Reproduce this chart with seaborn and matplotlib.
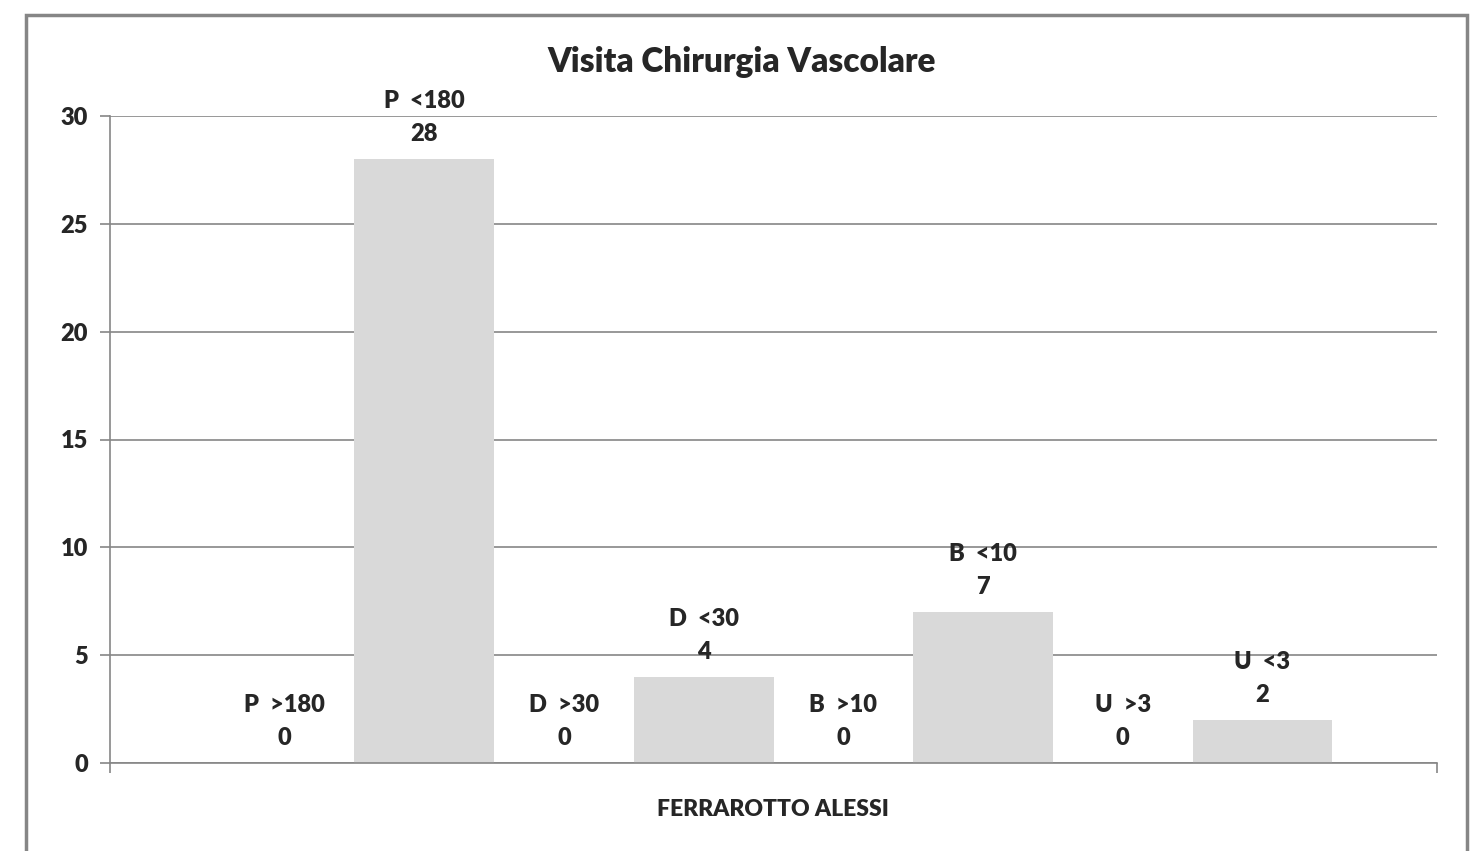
import pandas as pd
import matplotlib.pyplot as plt
import seaborn as sns
from matplotlib.patches import Rectangle

# chart data
doctor = "FERRAROTTO ALESSI"
series = ["P  >180", "P  <180", "D  >30", "D  <30", "B  >10", "B  <10", "U  >3", "U  <3"]
counts = [0, 28, 0, 4, 0, 7, 0, 2]
yticks = [0, 5, 10, 15, 20, 25, 30]

df = pd.DataFrame({"medico": [doctor] * len(series), "classe": series, "n": counts})

sns.set_style("white")
plt.rcParams['font.family'] = ['Lato', 'DejaVu Sans']

fig = plt.figure(figsize=(14.83, 8.51), dpi=100)
ax = fig.add_axes([110 / 1483, 1 - 763 / 851, (1437 - 110) / 1483, (763 - 116) / 851])

sns.barplot(data=df, x="medico", y="n", hue="classe", hue_order=series,
            palette=["#d9d9d9"] * len(series), saturation=1, ax=ax, legend=False,
            width=0.8, gap=0, edgecolor="none", linewidth=0)

ax.set_xlim(-0.475, 0.475)
ax.set_ylim(0, 30)
ax.set_yticks(yticks)
ax.set_yticklabels([str(t) for t in yticks], fontsize=17, fontweight="heavy")
ax.yaxis.grid(True, color="#868686", linewidth=1.2)
ax.set_axisbelow(True)
ax.tick_params(axis="y", which="both", left=True, length=7, width=1.2, color="#868686", pad=9)

# category boundary ticks on x axis
ax.set_xticks([-0.475, 0.475])
ax.set_xticklabels(["", ""])
ax.tick_params(axis="x", bottom=True, length=7, width=1.2, color="#868686")

for s in ["top", "right"]:
    ax.spines[s].set_visible(False)
for s in ["left", "bottom"]:
    ax.spines[s].set_color("#868686")
    ax.spines[s].set_linewidth(1.2)

ax.set_xlabel("")
ax.set_ylabel("")

# data labels: series name and value
for cont, name, v in zip(ax.containers, series, counts):
    ax.bar_label(cont, labels=[f"{name}\n{v}"], padding=10, fontsize=17,
                 fontweight="heavy", linespacing=1.6)

fig.text(0.5, 1 - 62 / 851, "Visita Chirurgia Vascolare", ha="center", va="center",
         fontsize=24, fontweight="heavy")
fig.text(773 / 1483, 1 - 810 / 851, doctor, ha="center", va="center",
         fontsize=16.5, fontweight="heavy")

# outer chart border
fig.patches.append(Rectangle((26 / 1483, -0.05), (1467 - 26) / 1483, 1.05 - 15 / 851,
                             transform=fig.transFigure, fill=False,
                             edgecolor="#868686", linewidth=2.5))

fig.savefig("out.png", dpi=100)
